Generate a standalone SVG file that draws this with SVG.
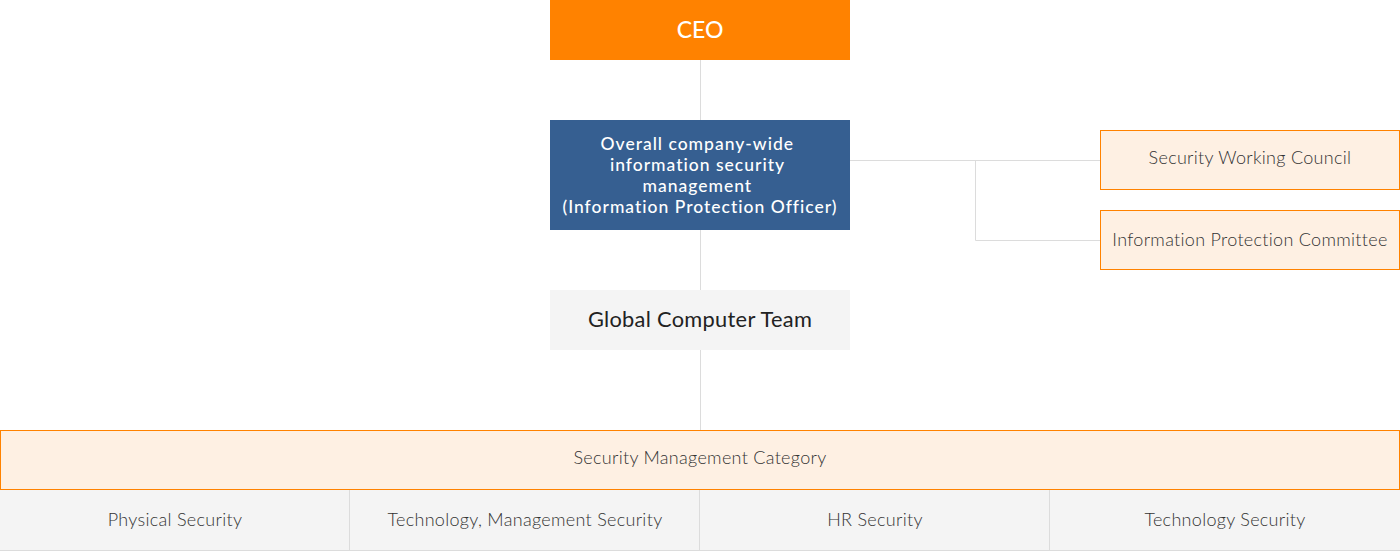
<svg xmlns="http://www.w3.org/2000/svg" width="1400" height="551" viewBox="0 0 1400 551">
<style>
text{font-family:"Lato","Noto Sans","Liberation Sans",sans-serif;text-anchor:middle;dominant-baseline:central}
.ln{stroke:#dcdcdc;stroke-width:1;fill:none}
.org{fill:#fef0e3;stroke:#ff8200;stroke-width:1}
.grey{fill:#f4f4f4}
.lt{font-size:18px;fill:#333;font-weight:300;letter-spacing:0.3px}
</style>
<rect width="1400" height="551" fill="#fff"/>
<g id="connectors">
<line class="ln" x1="700.5" y1="60" x2="700.5" y2="120"/>
<line class="ln" x1="700.5" y1="230" x2="700.5" y2="290"/>
<line class="ln" x1="700.5" y1="350" x2="700.5" y2="430"/>
<line class="ln" x1="850" y1="160.5" x2="1100" y2="160.5"/>
<line class="ln" x1="975.5" y1="160.5" x2="975.5" y2="240.5"/>
<line class="ln" x1="975.5" y1="240.5" x2="1100" y2="240.5"/>
</g>
<g id="ceo">
<rect x="550" y="0" width="300" height="60" fill="#ff8200"/>
<text x="700" y="29" font-size="23" fill="#fff" font-weight="500">CEO</text>
</g>
<g id="officer">
<rect x="550" y="120" width="300" height="110" fill="#365f91"/>
<text font-size="17.5" fill="#fff" font-weight="500" letter-spacing="1">
<tspan x="700" y="143">Overall company-wide</tspan>
<tspan x="700" y="164">information security</tspan>
<tspan x="700" y="185">management</tspan>
<tspan x="700" y="206">(Information Protection Officer)</tspan>
</text>
</g>
<g id="global-team">
<rect class="grey" x="550" y="290" width="300" height="60"/>
<text x="700" y="318" font-size="21.8" fill="#222" letter-spacing="0.3">Global Computer Team</text>
</g>
<g id="working-council">
<rect class="org" x="1100.5" y="130.5" width="299" height="59"/>
<text class="lt" x="1250" y="157">Security Working Council</text>
</g>
<g id="protection-committee">
<rect class="org" x="1100.5" y="210.5" width="299" height="59"/>
<text class="lt" x="1250" y="239">Information Protection Committee</text>
</g>
<g id="category">
<rect class="org" x="0.5" y="430.5" width="1399" height="59"/>
<text class="lt" x="700" y="457">Security Management Category</text>
</g>
<g id="subcategories">
<rect class="grey" x="0" y="490" width="1400" height="60"/>
<line class="ln" x1="0" y1="550.5" x2="1400" y2="550.5"/>
<line class="ln" x1="349.5" y1="490" x2="349.5" y2="550"/>
<line class="ln" x1="699.5" y1="490" x2="699.5" y2="550"/>
<line class="ln" x1="1049.5" y1="490" x2="1049.5" y2="550"/>
<text class="lt" x="175" y="519">Physical Security</text>
<text class="lt" x="525" y="519">Technology, Management Security</text>
<text class="lt" x="875" y="519">HR Security</text>
<text class="lt" x="1225" y="519">Technology Security</text>
</g>
</svg>
